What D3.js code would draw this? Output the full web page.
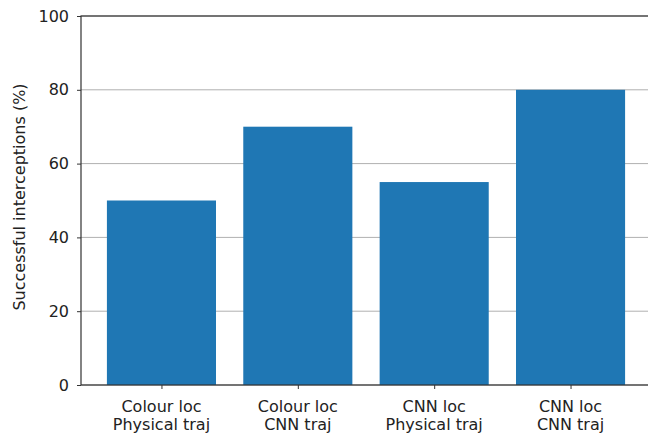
<!DOCTYPE html>
<html>
<head>
<script src="https://cdn.jsdelivr.net/npm/d3@7"></script>
<style>
body { margin: 0; background: white; }
text { font-family: "DejaVu Sans", sans-serif; fill: #222; }
</style>
</head>
<body>
<script>
// categories (two label lines each) and values
var labelsTop = ["Colour loc", "Colour loc", "CNN loc", "CNN loc"];
var labelsBottom = ["Physical traj", "CNN traj", "Physical traj", "CNN traj"];
var values = [50, 70, 55, 80];
var yTicks = [0, 20, 40, 60, 80, 100];

var width = 648, height = 438;
var mLeft = 81, mRight = 651, mTop = 16, mBottom = 385;

var svg = d3.select("body").append("svg")
  .attr("width", width).attr("height", height);

// matplotlib-like x: positions 0..3, limits -0.59..3.59
var x = d3.scaleLinear().domain([-0.59, 3.59]).range([mLeft, mRight]);
var y = d3.scaleLinear().domain([0, 100]).range([mBottom, mTop]);

// grid
svg.append("g").selectAll("line")
  .data(yTicks).enter().append("line")
  .attr("x1", mLeft).attr("x2", mRight)
  .attr("y1", d => y(d)).attr("y2", d => y(d))
  .attr("stroke", "#b0b0b0").attr("stroke-width", 1);

// bars
svg.append("g").selectAll("rect")
  .data(values).enter().append("rect")
  .attr("x", (d, i) => x(i - 0.4))
  .attr("width", (d, i) => x(i + 0.4) - x(i - 0.4))
  .attr("y", d => y(d))
  .attr("height", d => y(0) - y(d))
  .attr("fill", "#1f77b4");

// spines
svg.append("rect")
  .attr("x", mLeft).attr("y", mTop)
  .attr("width", mRight - mLeft).attr("height", mBottom - mTop)
  .attr("fill", "none").attr("stroke", "#333").attr("stroke-width", 1.2);

// y axis
var yAxis = d3.axisLeft(y).tickValues(yTicks).tickSize(4).tickPadding(8);
var gy = svg.append("g").attr("transform", "translate(" + mLeft + ",0)").call(yAxis);
gy.select(".domain").remove();
gy.selectAll("line").attr("stroke", "#333");
gy.selectAll("text").style("font-size", "16px").attr("fill", "#222");

// x axis
var xAxis = d3.axisBottom(x).tickValues([0, 1, 2, 3]).tickSize(4).tickFormat("");
var gx = svg.append("g").attr("transform", "translate(0," + mBottom + ")").call(xAxis);
gx.select(".domain").remove();
gx.selectAll("line").attr("stroke", "#333");

var xl = svg.append("g").selectAll("text")
  .data(labelsTop).enter().append("text")
  .attr("x", (d, i) => x(i))
  .attr("y", 412)
  .attr("text-anchor", "middle")
  .style("font-size", "16px");
xl.append("tspan").attr("x", (d, i) => x(i)).text(d => d);
xl.append("tspan").attr("x", (d, i) => x(i)).attr("dy", 18).text((d, i) => labelsBottom[i]);

// y label
svg.append("text")
  .attr("transform", "translate(25,197) rotate(-90)")
  .attr("text-anchor", "middle")
  .style("font-size", "16px")
  .text("Successful interceptions (%)");
</script>
</body>
</html>
